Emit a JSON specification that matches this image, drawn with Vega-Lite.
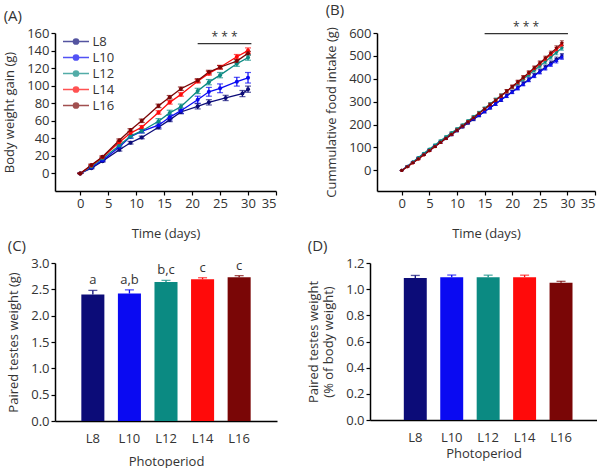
{
 "$schema": "https://vega.github.io/schema/vega-lite/v6.json",
 "padding": {"left": 3, "top": 2, "right": 0, "bottom": 0},
 "background": "white",
 "config": {
  "font": "Open Sans",
  "view": {"stroke": null},
  "axis": {"domainColor": "#000", "domainWidth": 1.5, "tickColor": "#000", "tickWidth": 1.2, "tickSize": 4, "labelFontSize": 13, "labelColor": "#333", "labelFont": "Open Sans", "titleFont": "Open Sans", "titleFontSize": 13, "titleFontWeight": "normal", "titleColor": "#333", "grid": false, "labelPadding": 2, "labelOverlap": false},
  "axisX": {"titlePadding": 17, "labelPadding": 2},
  "axisY": {"titlePadding": 10},
  "title": {"anchor": "start", "frame": "bounds", "fontSize": 15, "fontWeight": "normal", "color": "#333", "font": "Open Sans", "offset": 3},
  "legend": {"labelFont": "Open Sans"}
 },
 "resolve": {"scale": {"color": "independent"}, "legend": {"color": "independent"}},
 "spacing": -1,
 "datasets": {
  "A": [
   {"s":"L8","d":0,"v":0,"e":0},{"s":"L8","d":2,"v":6,"e":0.8},{"s":"L8","d":4,"v":14,"e":1},{"s":"L8","d":7,"v":27,"e":1.5},{"s":"L8","d":9,"v":35,"e":1.5},{"s":"L8","d":11,"v":41,"e":1.5},{"s":"L8","d":14,"v":52.6,"e":2},{"s":"L8","d":16,"v":61,"e":2},{"s":"L8","d":18,"v":70,"e":2},{"s":"L8","d":21,"v":76.5,"e":3},{"s":"L8","d":23,"v":81,"e":3},{"s":"L8","d":26,"v":86,"e":3},{"s":"L8","d":29,"v":91,"e":3.5},{"s":"L8","d":30,"v":96,"e":3.5},
   {"s":"L10","d":0,"v":0,"e":0},{"s":"L10","d":2,"v":7,"e":1},{"s":"L10","d":4,"v":15,"e":1},{"s":"L10","d":7,"v":30,"e":1.5},{"s":"L10","d":9,"v":42,"e":2},{"s":"L10","d":11,"v":48,"e":2},{"s":"L10","d":14,"v":55,"e":3},{"s":"L10","d":16,"v":64,"e":3},{"s":"L10","d":18,"v":71.5,"e":3},{"s":"L10","d":21,"v":84,"e":4},{"s":"L10","d":23,"v":93,"e":5},{"s":"L10","d":25,"v":97,"e":5},{"s":"L10","d":28,"v":104.5,"e":5},{"s":"L10","d":30,"v":109,"e":6},
   {"s":"L12","d":0,"v":0,"e":0},{"s":"L12","d":2,"v":8,"e":1},{"s":"L12","d":4,"v":17,"e":1},{"s":"L12","d":7,"v":31.7,"e":1.5},{"s":"L12","d":9,"v":42.5,"e":2},{"s":"L12","d":11,"v":48.4,"e":2},{"s":"L12","d":14,"v":59.5,"e":3},{"s":"L12","d":16,"v":69,"e":3},{"s":"L12","d":18,"v":76,"e":3},{"s":"L12","d":21,"v":94,"e":3},{"s":"L12","d":23,"v":104,"e":3},{"s":"L12","d":25,"v":112,"e":3},{"s":"L12","d":28,"v":125,"e":3},{"s":"L12","d":30,"v":132,"e":3},
   {"s":"L14","d":0,"v":0,"e":0},{"s":"L14","d":2,"v":9,"e":1},{"s":"L14","d":4,"v":18.5,"e":1},{"s":"L14","d":7,"v":35.5,"e":1.5},{"s":"L14","d":9,"v":46,"e":1.5},{"s":"L14","d":11,"v":52.6,"e":2},{"s":"L14","d":14,"v":69.5,"e":2},{"s":"L14","d":16,"v":81,"e":2},{"s":"L14","d":18,"v":90,"e":2},{"s":"L14","d":21,"v":105,"e":2},{"s":"L14","d":23,"v":114,"e":2},{"s":"L14","d":25,"v":121,"e":2},{"s":"L14","d":28,"v":133,"e":2.5},{"s":"L14","d":30,"v":140,"e":3},
   {"s":"L16","d":0,"v":0,"e":0},{"s":"L16","d":2,"v":9.7,"e":1},{"s":"L16","d":4,"v":19,"e":1},{"s":"L16","d":7,"v":37.8,"e":1.5},{"s":"L16","d":9,"v":49.5,"e":1.5},{"s":"L16","d":11,"v":60,"e":2},{"s":"L16","d":14,"v":77,"e":2},{"s":"L16","d":16,"v":86.8,"e":2},{"s":"L16","d":18,"v":96.5,"e":2},{"s":"L16","d":21,"v":106,"e":2},{"s":"L16","d":23,"v":115.5,"e":2},{"s":"L16","d":25,"v":121,"e":2},{"s":"L16","d":28,"v":128,"e":2},{"s":"L16","d":30,"v":137,"e":2}
  ],
  "B": [
   {"s":"L8","d":0,"v":0,"e":0},{"s":"L8","d":1,"v":17,"e":2},{"s":"L8","d":2,"v":35,"e":2},{"s":"L8","d":3,"v":53,"e":3},{"s":"L8","d":4,"v":70,"e":3},{"s":"L8","d":5,"v":88,"e":3},{"s":"L8","d":6,"v":105,"e":4},{"s":"L8","d":7,"v":122,"e":4},{"s":"L8","d":8,"v":139,"e":4},{"s":"L8","d":9,"v":156,"e":5},{"s":"L8","d":10,"v":173,"e":5},{"s":"L8","d":11,"v":190,"e":5},{"s":"L8","d":12,"v":207,"e":5},{"s":"L8","d":13,"v":223,"e":6},{"s":"L8","d":14,"v":240,"e":6},{"s":"L8","d":15,"v":257,"e":6},{"s":"L8","d":16,"v":274,"e":6},{"s":"L8","d":17,"v":291,"e":7},{"s":"L8","d":18,"v":308,"e":7},{"s":"L8","d":19,"v":326,"e":7},{"s":"L8","d":20,"v":343,"e":7},{"s":"L8","d":21,"v":361,"e":8},{"s":"L8","d":22,"v":379,"e":8},{"s":"L8","d":23,"v":397,"e":8},{"s":"L8","d":24,"v":415,"e":8},{"s":"L8","d":25,"v":433,"e":9},{"s":"L8","d":26,"v":451,"e":9},{"s":"L8","d":27,"v":469,"e":9},{"s":"L8","d":28,"v":485,"e":10},{"s":"L8","d":29,"v":500,"e":10},
   {"s":"L10","d":0,"v":0,"e":0},{"s":"L10","d":1,"v":18,"e":2},{"s":"L10","d":2,"v":36,"e":2},{"s":"L10","d":3,"v":54,"e":3},{"s":"L10","d":4,"v":72,"e":3},{"s":"L10","d":5,"v":90,"e":3},{"s":"L10","d":6,"v":108,"e":4},{"s":"L10","d":7,"v":125,"e":4},{"s":"L10","d":8,"v":142,"e":4},{"s":"L10","d":9,"v":159,"e":5},{"s":"L10","d":10,"v":176,"e":5},{"s":"L10","d":11,"v":193,"e":5},{"s":"L10","d":12,"v":209,"e":5},{"s":"L10","d":13,"v":225,"e":6},{"s":"L10","d":14,"v":241,"e":6},{"s":"L10","d":15,"v":257,"e":6},{"s":"L10","d":16,"v":274,"e":6},{"s":"L10","d":17,"v":291,"e":7},{"s":"L10","d":18,"v":308,"e":7},{"s":"L10","d":19,"v":325,"e":7},{"s":"L10","d":20,"v":342,"e":7},{"s":"L10","d":21,"v":359,"e":8},{"s":"L10","d":22,"v":377,"e":8},{"s":"L10","d":23,"v":395,"e":8},{"s":"L10","d":24,"v":413,"e":8},{"s":"L10","d":25,"v":430,"e":9},{"s":"L10","d":26,"v":447,"e":9},{"s":"L10","d":27,"v":463,"e":9},{"s":"L10","d":28,"v":479,"e":10},{"s":"L10","d":29,"v":495,"e":10},
   {"s":"L12","d":0,"v":0,"e":0},{"s":"L12","d":1,"v":18,"e":2},{"s":"L12","d":2,"v":37,"e":2},{"s":"L12","d":3,"v":56,"e":3},{"s":"L12","d":4,"v":75,"e":3},{"s":"L12","d":5,"v":93,"e":3},{"s":"L12","d":6,"v":111,"e":4},{"s":"L12","d":7,"v":129,"e":4},{"s":"L12","d":8,"v":147,"e":4},{"s":"L12","d":9,"v":164,"e":5},{"s":"L12","d":10,"v":181,"e":5},{"s":"L12","d":11,"v":198,"e":5},{"s":"L12","d":12,"v":216,"e":5},{"s":"L12","d":13,"v":234,"e":6},{"s":"L12","d":14,"v":252,"e":6},{"s":"L12","d":15,"v":271,"e":6},{"s":"L12","d":16,"v":290,"e":6},{"s":"L12","d":17,"v":309,"e":7},{"s":"L12","d":18,"v":327,"e":7},{"s":"L12","d":19,"v":345,"e":7},{"s":"L12","d":20,"v":363,"e":7},{"s":"L12","d":21,"v":381,"e":8},{"s":"L12","d":22,"v":399,"e":8},{"s":"L12","d":23,"v":418,"e":8},{"s":"L12","d":24,"v":437,"e":8},{"s":"L12","d":25,"v":456,"e":9},{"s":"L12","d":26,"v":475,"e":9},{"s":"L12","d":27,"v":495,"e":9},{"s":"L12","d":28,"v":515,"e":10},{"s":"L12","d":29,"v":535,"e":10},
   {"s":"L14","d":0,"v":0,"e":0},{"s":"L14","d":1,"v":16,"e":2},{"s":"L14","d":2,"v":33,"e":2},{"s":"L14","d":3,"v":50,"e":3},{"s":"L14","d":4,"v":68,"e":3},{"s":"L14","d":5,"v":86,"e":3},{"s":"L14","d":6,"v":104,"e":4},{"s":"L14","d":7,"v":122,"e":4},{"s":"L14","d":8,"v":140,"e":4},{"s":"L14","d":9,"v":158,"e":5},{"s":"L14","d":10,"v":176,"e":5},{"s":"L14","d":11,"v":194,"e":5},{"s":"L14","d":12,"v":212,"e":5},{"s":"L14","d":13,"v":230,"e":6},{"s":"L14","d":14,"v":249,"e":6},{"s":"L14","d":15,"v":268,"e":6},{"s":"L14","d":16,"v":287,"e":6},{"s":"L14","d":17,"v":306,"e":7},{"s":"L14","d":18,"v":325,"e":7},{"s":"L14","d":19,"v":345,"e":7},{"s":"L14","d":20,"v":364,"e":7},{"s":"L14","d":21,"v":384,"e":8},{"s":"L14","d":22,"v":404,"e":8},{"s":"L14","d":23,"v":424,"e":8},{"s":"L14","d":24,"v":444,"e":8},{"s":"L14","d":25,"v":465,"e":9},{"s":"L14","d":26,"v":485,"e":9},{"s":"L14","d":27,"v":506,"e":9},{"s":"L14","d":28,"v":527,"e":10},{"s":"L14","d":29,"v":548,"e":10},
   {"s":"L16","d":0,"v":0,"e":0},{"s":"L16","d":1,"v":16,"e":2},{"s":"L16","d":2,"v":33,"e":2},{"s":"L16","d":3,"v":50,"e":3},{"s":"L16","d":4,"v":68,"e":3},{"s":"L16","d":5,"v":86,"e":3},{"s":"L16","d":6,"v":104,"e":4},{"s":"L16","d":7,"v":122,"e":4},{"s":"L16","d":8,"v":140,"e":4},{"s":"L16","d":9,"v":158,"e":5},{"s":"L16","d":10,"v":176,"e":5},{"s":"L16","d":11,"v":194,"e":5},{"s":"L16","d":12,"v":212,"e":5},{"s":"L16","d":13,"v":230,"e":6},{"s":"L16","d":14,"v":249,"e":6},{"s":"L16","d":15,"v":268,"e":6},{"s":"L16","d":16,"v":287,"e":6},{"s":"L16","d":17,"v":306,"e":7},{"s":"L16","d":18,"v":326,"e":7},{"s":"L16","d":19,"v":346,"e":7},{"s":"L16","d":20,"v":366,"e":7},{"s":"L16","d":21,"v":386,"e":8},{"s":"L16","d":22,"v":406,"e":8},{"s":"L16","d":23,"v":427,"e":8},{"s":"L16","d":24,"v":448,"e":8},{"s":"L16","d":25,"v":469,"e":9},{"s":"L16","d":26,"v":490,"e":9},{"s":"L16","d":27,"v":512,"e":9},{"s":"L16","d":28,"v":534,"e":10},{"s":"L16","d":29,"v":556,"e":10}
  ],
  "C": [
   {"s":"L8","v":2.40,"hi":2.48,"lab":"a"},{"s":"L10","v":2.42,"hi":2.49,"lab":"a,b"},{"s":"L12","v":2.64,"hi":2.67,"lab":"b,c"},{"s":"L14","v":2.69,"hi":2.72,"lab":"c"},{"s":"L16","v":2.73,"hi":2.76,"lab":"c"}
  ],
  "D": [
   {"s":"L8","v":1.085,"hi":1.105},{"s":"L10","v":1.092,"hi":1.108},{"s":"L12","v":1.092,"hi":1.107},{"s":"L14","v":1.092,"hi":1.107},{"s":"L16","v":1.05,"hi":1.06}
  ]
 },
 "vconcat": [
  {
   "hconcat": [
    {
     "width": 221, "height": 158,
     "title": {"text": "(A)"},
     "layer": [
      {
       "data": {"name": "A"},
       "mark": {"type": "errorbar", "ticks": {"size": 6, "thickness": 1.2}, "thickness": 1.2},
       "encoding": {
        "x": {"field": "d", "type": "quantitative", "scale": {"domain": [-4.5, 35], "nice": false, "zero": false}, "axis": {"values": [0,5,10,15,20,25,30,35], "tickCount": 50, "title": "Time (days)"}},
        "y": {"field": "v", "type": "quantitative", "scale": {"domain": [-20, 160], "nice": false, "zero": false}, "axis": {"values": [0,20,40,60,80,100,120,140,160], "tickCount": 50, "title": "Body weight gain (g)"}},
        "yError": {"field": "e"},
        "color": {"field": "s", "type": "nominal", "scale": {"domain": ["L8","L10","L12","L14","L16"], "range": ["#0c0c78","#0a0af2","#0b8a82","#ff0a0a","#7a0606"]}}
       }
      },
      {
       "data": {"name": "A"},
       "mark": {"type": "line", "strokeWidth": 1.3},
       "encoding": {
        "x": {"field": "d", "type": "quantitative"},
        "y": {"field": "v", "type": "quantitative"},
        "color": {"field": "s", "type": "nominal", "scale": {"domain": ["L8","L10","L12","L14","L16"], "range": ["#0c0c78","#0a0af2","#0b8a82","#ff0a0a","#7a0606"]},
         "legend": {"orient": "none", "legendX": 13.5, "legendY": 1, "title": null, "symbolType": "M-2,0H2M-0.4,0A0.4,0.4,0,1,1,0.4,0A0.4,0.4,0,1,1,-0.4,0Z", "symbolSize": 169, "symbolStrokeWidth": 1.5, "labelFontSize": 13, "labelColor": "#333", "rowPadding": 1, "labelOffset": 9}}
       }
      },
      {
       "data": {"name": "A"},
       "mark": {"type": "point", "filled": true, "size": 16, "opacity": 1},
       "encoding": {
        "x": {"field": "d", "type": "quantitative"},
        "y": {"field": "v", "type": "quantitative"},
        "color": {"field": "s", "type": "nominal"}
       }
      },
      {
       "data": {"values": [{"x1": 21, "x2": 30.6, "y": 148}]},
       "mark": {"type": "rule", "strokeWidth": 1.3, "color": "#333"},
       "encoding": {"x": {"field": "x1", "type": "quantitative"}, "x2": {"field": "x2"}, "y": {"field": "y", "type": "quantitative"}}
      },
      {
       "data": {"values": [{"x": 25.8, "y": 148, "t": "* * *"}]},
       "mark": {"type": "text", "baseline": "bottom", "dy": 0, "fontSize": 12, "color": "#333"},
       "encoding": {"x": {"field": "x", "type": "quantitative"}, "y": {"field": "y", "type": "quantitative"}, "text": {"field": "t"}}
      }
     ]
    },
    {
     "width": 218, "height": 158,
     "title": {"text": "(B)"},
     "layer": [
      {
       "data": {"name": "B"},
       "mark": {"type": "errorbar", "ticks": {"size": 4, "thickness": 1}, "thickness": 1},
       "encoding": {
        "x": {"field": "d", "type": "quantitative", "scale": {"domain": [-4.5, 35], "nice": false, "zero": false}, "axis": {"values": [0,5,10,15,20,25,30,35], "tickCount": 50, "title": "Time (days)"}},
        "y": {"field": "v", "type": "quantitative", "scale": {"domain": [-90, 600], "nice": false, "zero": false}, "axis": {"values": [0,100,200,300,400,500,600], "tickCount": 50, "title": "Cummulative food intake (g)"}},
        "yError": {"field": "e"},
        "color": {"field": "s", "type": "nominal", "scale": {"domain": ["L8","L10","L12","L14","L16"], "range": ["#0c0c78","#0a0af2","#0b8a82","#ff0a0a","#7a0606"]}, "legend": null}
       }
      },
      {
       "data": {"name": "B"},
       "mark": {"type": "line", "strokeWidth": 1.2},
       "encoding": {
        "x": {"field": "d", "type": "quantitative"},
        "y": {"field": "v", "type": "quantitative"},
        "color": {"field": "s", "type": "nominal", "legend": null}
       }
      },
      {
       "data": {"name": "B"},
       "mark": {"type": "point", "filled": true, "size": 10, "opacity": 1},
       "encoding": {
        "x": {"field": "d", "type": "quantitative"},
        "y": {"field": "v", "type": "quantitative"},
        "color": {"field": "s", "type": "nominal", "legend": null}
       }
      },
      {
       "data": {"values": [{"x1": 15, "x2": 30.1, "y": 597}]},
       "mark": {"type": "rule", "strokeWidth": 1.3, "color": "#333"},
       "encoding": {"x": {"field": "x1", "type": "quantitative"}, "x2": {"field": "x2"}, "y": {"field": "y", "type": "quantitative"}}
      },
      {
       "data": {"values": [{"x": 22.5, "y": 597, "t": "* * *"}]},
       "mark": {"type": "text", "baseline": "bottom", "dy": 0, "fontSize": 12, "color": "#333"},
       "encoding": {"x": {"field": "x", "type": "quantitative"}, "y": {"field": "y", "type": "quantitative"}, "text": {"field": "t"}}
      }
     ]
    }
   ],
   "spacing": 101,
   "bounds": "flush",
   "resolve": {"scale": {"color": "independent"}, "legend": {"color": "independent"}}
  },
  {
   "hconcat": [
    {
     "width": 222, "height": 158,
     "title": {"text": "(C)"},
     "data": {"name": "C"},
     "encoding": {
      "x": {"field": "s", "type": "nominal", "sort": ["L8","L10","L12","L14","L16"], "scale": {"paddingInner": 0.37, "paddingOuter": 0.72}, "axis": {"title": "Photoperiod", "labelAngle": 0, "ticks": false, "labelPadding": 11, "titlePadding": 10}}
     },
     "layer": [
      {
       "mark": {"type": "bar"},
       "encoding": {
        "y": {"field": "v", "type": "quantitative", "scale": {"domain": [0, 3], "nice": false}, "axis": {"values": [0,0.5,1,1.5,2,2.5,3], "tickCount": 50, "format": ".1f", "title": "Paired testes weight (g)"}},
        "color": {"field": "s", "type": "nominal", "scale": {"domain": ["L8","L10","L12","L14","L16"], "range": ["#0c0c78","#0a0af2","#0b8a82","#ff0a0a","#7a0606"]}, "legend": null}
       }
      },
      {
       "mark": {"type": "rule", "strokeWidth": 1.3},
       "encoding": {"y": {"field": "v", "type": "quantitative"}, "y2": {"field": "hi"}, "color": {"field": "s", "type": "nominal", "legend": null}}
      },
      {
       "mark": {"type": "tick", "orient": "horizontal", "size": 9, "thickness": 1.3},
       "encoding": {"y": {"field": "hi", "type": "quantitative"}, "color": {"field": "s", "type": "nominal", "legend": null}}
      },
      {
       "mark": {"type": "text", "baseline": "bottom", "dy": -3, "fontSize": 13, "color": "#333"},
       "encoding": {"y": {"field": "hi", "type": "quantitative"}, "text": {"field": "lab"}}
      }
     ]
    },
    {
     "width": 227, "height": 157,
     "title": {"text": "(D)"},
     "data": {"name": "D"},
     "encoding": {
      "x": {"field": "s", "type": "nominal", "sort": ["L8","L10","L12","L14","L16"], "scale": {"paddingInner": 0.37, "paddingOuter": 0.8, "align": 0.58}, "axis": {"title": "Photoperiod", "labelAngle": 0, "ticks": false, "labelPadding": 11, "titlePadding": 3}}
     },
     "layer": [
      {
       "mark": {"type": "bar"},
       "encoding": {
        "y": {"field": "v", "type": "quantitative", "scale": {"domain": [0, 1.2], "nice": false}, "axis": {"values": [0,0.2,0.4,0.6,0.8,1,1.2], "tickCount": 50, "format": ".1f", "title": ["Paired testes weight", "(% of body weight)"]}},
        "color": {"field": "s", "type": "nominal", "scale": {"domain": ["L8","L10","L12","L14","L16"], "range": ["#0c0c78","#0a0af2","#0b8a82","#ff0a0a","#7a0606"]}, "legend": null}
       }
      },
      {
       "mark": {"type": "rule", "strokeWidth": 1.3},
       "encoding": {"y": {"field": "v", "type": "quantitative"}, "y2": {"field": "hi"}, "color": {"field": "s", "type": "nominal", "legend": null}}
      },
      {
       "mark": {"type": "tick", "orient": "horizontal", "size": 9, "thickness": 1.3},
       "encoding": {"y": {"field": "hi", "type": "quantitative"}, "color": {"field": "s", "type": "nominal", "legend": null}}
      }
     ]
    }
   ],
   "spacing": 93,
   "bounds": "flush",
   "resolve": {"scale": {"color": "independent"}, "legend": {"color": "independent"}}
  }
 ]
}
